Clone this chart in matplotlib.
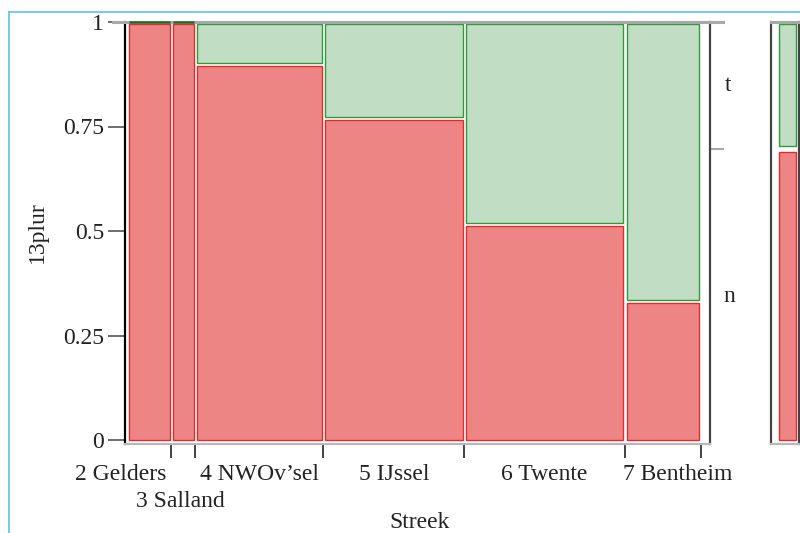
import matplotlib
matplotlib.use("Agg")
import matplotlib.pyplot as plt
import matplotlib.transforms as mtransforms
from matplotlib.patches import Rectangle
from matplotlib.lines import Line2D
import numpy as np

# ---- data ----
streek = ["2 Gelders", "3 Salland", "4 NWOv\u2019sel", "5 IJssel", "6 Twente", "7 Bentheim"]
share = [0.0764, 0.0419, 0.2237, 0.2461, 0.2801, 0.1318]   # column widths (share of cases)
frac_n = [1.000, 1.000, 0.898, 0.769, 0.516, 0.331]        # proportion "n" per Streek
levels = ["n", "t"]
yticks = [0, 0.25, 0.5, 0.75, 1]
yticklabels = ["0", "0.25", "0.5", "0.75", "1"]

# ---- style ----
plt.rcParams['font.family'] = ['Liberation Serif', 'DejaVu Serif']
FS = 17
TXT = "#222222"
RED_F, RED_E = "#ee8585", "#e42a2c"
GRN_F, GRN_E = "#c1dec4", "#2e9a3a"
DARK = "#444444"
GRAY = "#a8a8a8"

fig = plt.figure(figsize=(8, 5.33), dpi=100)
W, H = 800, 533

def px_rect(x0, y0, x1, y1):
    return [x0 / W, 1 - y1 / H, (x1 - x0) / W, (y1 - y0) / H]

# main mosaic axes : frame 125..710 px ; data 0..1 -> 127.5..700.5 px
ax = fig.add_axes(px_rect(125, 22, 710, 444))
PXU = 573.0
ax.set_xlim(-2.5 / PXU, (710 - 127.5) / PXU)
ax.set_ylim(-4 / 418, 1)

share = np.array(share)
bounds = np.concatenate([[0], np.cumsum(share)])
gx = 1.6 / PXU
gy = 1.6 / 418
for i in range(len(streek)):
    x0 = bounds[i] + gx
    x1 = bounds[i + 1] - gx
    p = frac_n[i]
    # n (red)
    ax.add_patch(Rectangle((x0, 0), x1 - x0, max(p - gy, 0), facecolor=RED_F,
                           edgecolor=RED_E, lw=1.0, zorder=2))
    # t (green)
    if p < 1:
        gb = p + gy
        ax.add_patch(Rectangle((x0, gb), x1 - x0, 1.0 - 2 / 418 - gb, facecolor=GRN_F,
                               edgecolor=GRN_E, lw=1.0, zorder=2))
    else:
        ax.add_patch(Rectangle((x0, 1.0), x1 - x0, 0.0, facecolor=GRN_F,
                               edgecolor="#1f6e2a", lw=1.8, zorder=7, clip_on=False))

# spines
ax.spines["top"].set_visible(False)
ax.spines["left"].set_color("black")
ax.spines["left"].set_linewidth(1.6)
ax.spines["right"].set_color(DARK)
ax.spines["right"].set_linewidth(1.6)
ax.spines["bottom"].set_color("#b8b8b8")
ax.spines["bottom"].set_linewidth(1.6)

ax.set_yticks(yticks)
ax.set_yticklabels(yticklabels, fontsize=FS, color=TXT)
ax.tick_params(axis="y", length=12, width=1.2, color="#555555", pad=3)
ax.set_xticks(bounds[1:])
ax.set_xticklabels([])
ax.tick_params(axis="x", length=10, width=1.3, color="#333333", direction="out")

# top gray line across at y = 1
trans_b = mtransforms.blended_transform_factory(ax.transAxes, ax.transData)
ax.add_line(Line2D([-12 / 585, 598 / 585], [1, 1], transform=trans_b, color=GRAY,
                   lw=2.2, clip_on=False, zorder=5))

# overall proportion on the right axis
overall_n = float(np.sum(share * np.array(frac_n)) / np.sum(share))
ax.add_line(Line2D([1, 598 / 585], [overall_n, overall_n], transform=trans_b,
                   color=GRAY, lw=1.5, clip_on=False))
ax.annotate(levels[1], xy=(1, (1 + overall_n) / 2), xycoords=trans_b,
            xytext=(15, 0), textcoords="offset pixels", ha="left", va="center",
            fontsize=FS, color=TXT)
ax.annotate(levels[0], xy=(1, overall_n / 2), xycoords=trans_b,
            xytext=(13, -2), textcoords="offset pixels", ha="left", va="center",
            fontsize=FS, color=TXT)

# x category labels (two rows where needed)
trans_x = mtransforms.blended_transform_factory(ax.transData, ax.transAxes)
label_dx = [-29, -3, 0, 0, -1, 15]
label_row = [0, 1, 0, 0, 0, 0]
centers = (bounds[:-1] + bounds[1:]) / 2
for i, name in enumerate(streek):
    ax.annotate(name, xy=(centers[i], 0), xycoords=trans_x,
                xytext=(label_dx[i], -36 - 27 * label_row[i]), textcoords="offset pixels",
                ha="center", va="baseline", fontsize=FS, color=TXT)

fig.text(420 / W, 1 - 528 / H, "Streek", ha="center", va="baseline", fontsize=FS,
         color=TXT)
fig.text(37 / W, 1 - 232 / H, "13plur", ha="center", va="center", rotation=90,
         fontsize=FS, color=TXT)

# overall bar panel on the right
ax2 = fig.add_axes(px_rect(771, 22, 799, 444))
ax2.set_xlim(0, 1)
ax2.set_ylim(-4 / 418, 1)
ax2.set_xticks([])
ax2.set_yticks([])
for s in ["left", "right"]:
    ax2.spines[s].set_color(DARK)
    ax2.spines[s].set_linewidth(1.6)
ax2.spines["top"].set_color(GRAY)
ax2.spines["top"].set_linewidth(2.2)
ax2.spines["bottom"].set_color("#b8b8b8")
ax2.spines["bottom"].set_linewidth(1.6)
bx0, bx1 = 8 / 28, 24.5 / 28
g2 = 3 / 418
ax2.add_patch(Rectangle((bx0, 0), bx1 - bx0, overall_n - g2, facecolor=RED_F,
                        edgecolor=RED_E, lw=1.0))
ax2.add_patch(Rectangle((bx0, overall_n + g2), bx1 - bx0, 1 - overall_n - g2 - 2 / 418,
                        facecolor=GRN_F, edgecolor=GRN_E, lw=1.0))

# light blue frame lines
fig.add_artist(Line2D([9 / W, 1], [1 - 11.5 / H, 1 - 11.5 / H], transform=fig.transFigure,
                      color="#5bc3ee", lw=1.2))
fig.add_artist(Line2D([9 / W, 9 / W], [0, 1 - 11.5 / H], transform=fig.transFigure,
                      color="#5bc3ee", lw=1.2))

fig.savefig("out.png", dpi=100)
